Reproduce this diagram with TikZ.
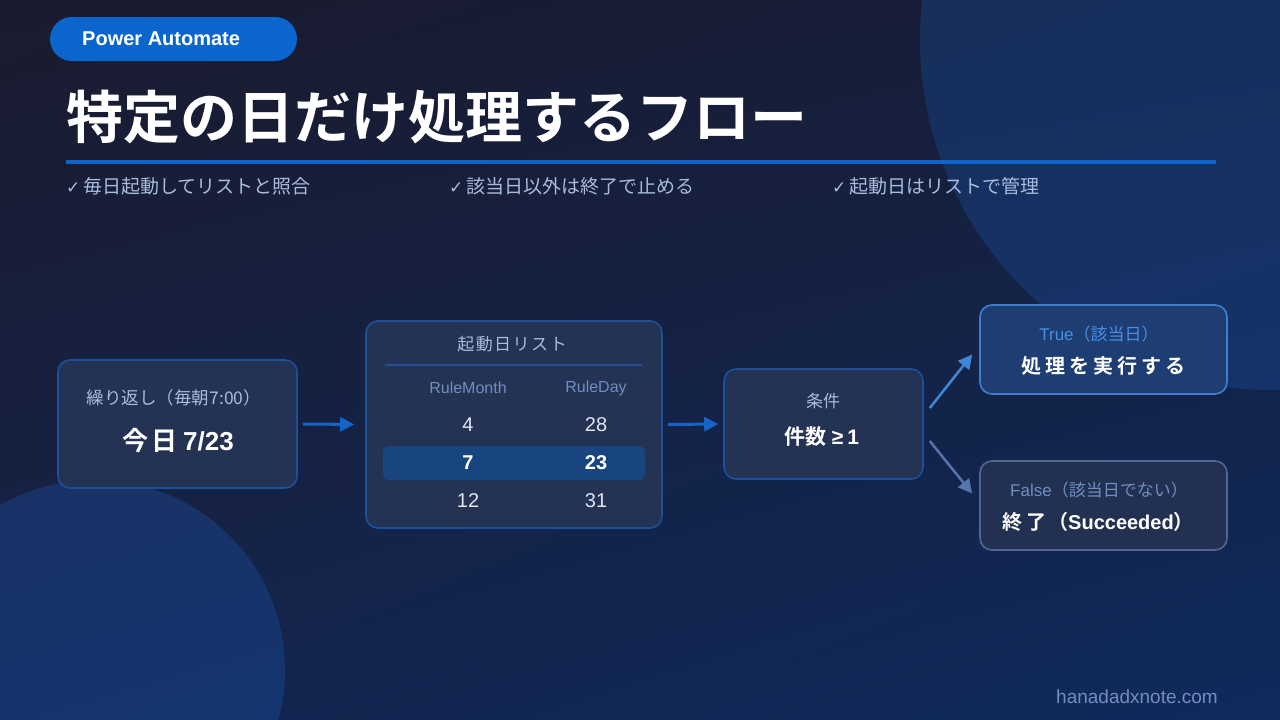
\documentclass[tikz,border=0pt]{standalone}
\usepackage{fontspec}
\setmainfont{Liberation Sans}
\newfontfamily\jp{Noto Sans CJK JP}[BoldFont={Noto Sans CJK JP Bold}]
\newfontfamily\symf{DejaVu Sans}
\usetikzlibrary{arrows.meta,calc,shadings}
\definecolor{bgUL}{RGB}{26,27,46}
\definecolor{bgUR}{RGB}{22,30,58}
\definecolor{bgLL}{RGB}{20,36,76}
\definecolor{bgLR}{RGB}{15,42,92}
\definecolor{accent}{RGB}{10,102,204}
\definecolor{circA}{RGB}{28,92,185}
\definecolor{boxfill}{RGB}{36,50,84}
\definecolor{boxline}{RGB}{28,80,152}
\definecolor{rowhl}{RGB}{24,68,128}
\definecolor{lbl}{RGB}{168,188,222}
\definecolor{hdr}{RGB}{112,142,192}
\definecolor{cell}{RGB}{222,228,242}
\definecolor{arr}{RGB}{22,100,200}
\definecolor{arrup}{RGB}{64,135,215}
\definecolor{arrdn}{RGB}{88,116,172}
\definecolor{truefill}{RGB}{30,62,115}
\definecolor{trueline}{RGB}{62,126,206}
\definecolor{truelbl}{RGB}{72,142,226}
\definecolor{falsefill}{RGB}{34,48,82}
\definecolor{falseline}{RGB}{82,102,142}
\tikzset{
  box/.style={draw=boxline, fill=boxfill, rounded corners=12pt, line width=1.6pt, inner sep=0pt},
  txt/.style={inner sep=0pt, anchor=center},
  flowarrow/.style={draw=arr, line width=3pt, -{Triangle[length=14pt,width=14pt]}},
}
\newcommand{\fs}[1]{\fontsize{#1}{#1}\selectfont}
\begin{document}
\begin{tikzpicture}[x=1pt,y=-1pt]
\useasboundingbox (0,0) rectangle (1280,720);
\shade[upper left=bgUL, upper right=bgUR, lower left=bgLL, lower right=bgLR] (0,0) rectangle (1280,720);
\begin{scope}
  \clip (0,0) rectangle (1280,720);
  \fill[circA, opacity=0.28] (1270,40) circle [radius=350pt];
  \fill[circA, opacity=0.30] (95,670) circle [radius=190pt];
\end{scope}

% header pill
\node[fill=accent, rounded corners=22pt, minimum width=247pt, minimum height=44pt, inner sep=0pt] (pill) at (173.5,39) {};
\node[txt, anchor=west, text=white, font=\rmfamily\bfseries\fs{20}] (pilltxt) at (82,39) {Power Automate};

% title
\node[txt, anchor=west, text=white, font=\jp\bfseries\fs{57}] (title) at (66,117) {特定の日だけ処理するフロー};
\draw[accent, line width=4pt] (66,162) -- (1216,162);

% bullets
\node[txt, anchor=west, text=lbl, font=\jp\fs{19}] (b1) at (66,186) {{\symf\fs{17}✓}\kern3pt 毎日起動してリストと照合};
\node[txt, anchor=west, text=lbl, font=\jp\fs{19}] (b2) at (449,186) {{\symf\fs{17}✓}\kern3pt 該当日以外は終了で止める};
\node[txt, anchor=west, text=lbl, font=\jp\fs{19}] (b3) at (832,186) {{\symf\fs{17}✓}\kern3pt 起動日はリストで管理};

% box 1 trigger
\node[box, minimum width=239pt, minimum height=128pt] (trig) at (177.5,424) {};
\node[txt, text=lbl, font=\jp\fs{17.5}] (trigl) at (174,398) {繰り返し（毎朝7:00）};
\node[txt, text=white, font=\jp\bfseries\fs{26}] (trigv) at (178,441) {今\kern3pt 日\ {\rmfamily 7/23}};

% box 2 list
\node[box, minimum width=296pt, minimum height=207pt] (list) at (514,424.5) {};
\node[txt, text=lbl, font=\jp\fs{17}] (listt) at (512,344) {起\kern1.5pt 動\kern1.5pt 日\kern1.5pt リ\kern1.5pt ス\kern1.5pt ト};
\draw[boxline, line width=2pt] (385,365) -- (642,365);
\node[txt, text=hdr, font=\rmfamily\fs{16}] (h1) at (468,388) {RuleMonth};
\node[txt, text=hdr, font=\rmfamily\fs{16}] (h2) at (596,388) {RuleDay};
\node[txt, text=cell, font=\rmfamily\fs{20}] (r11) at (468,425) {4};
\node[txt, text=cell, font=\rmfamily\fs{20}] (r12) at (596,425) {28};
\node[fill=rowhl, rounded corners=6pt, minimum width=262pt, minimum height=34pt, inner sep=0pt] (hl) at (514,463) {};
\node[txt, text=white, font=\rmfamily\bfseries\fs{20}] (r21) at (468,463) {7};
\node[txt, text=white, font=\rmfamily\bfseries\fs{20}] (r22) at (596,463) {23};
\node[txt, text=cell, font=\rmfamily\fs{20}] (r31) at (468,501) {12};
\node[txt, text=cell, font=\rmfamily\fs{20}] (r32) at (596,501) {31};

% box 3 condition
\node[box, minimum width=199pt, minimum height=110pt] (cond) at (823.5,424) {};
\node[txt, text=lbl, font=\jp\fs{17}] (condl) at (823,401) {条件};
\node[txt, text=white, font=\jp\bfseries\fs{21}] (condv) at (822,437) {件数\kern5pt{\rmfamily\bfseries ≥}\kern4pt{\rmfamily\bfseries 1}};

% true box
\node[box, draw=trueline, fill=truefill, minimum width=247pt, minimum height=89pt] (trueb) at (1103.5,349.5) {};
\node[txt, text=truelbl, font=\jp\fs{17}] (truel) at (1099,334) {{\rmfamily True}（該当日）};
\node[txt, text=white, font=\jp\bfseries\fs{20}] (truev) at (1103,366) {処\kern4pt 理\kern4pt を\kern4pt 実\kern4pt 行\kern4pt す\kern4pt る};

% false box
\node[box, draw=falseline, fill=falsefill, minimum width=247pt, minimum height=89pt] (falseb) at (1103.5,505.5) {};
\node[txt, text=hdr, font=\jp\fs{17}] (falsel) at (1099,490) {{\rmfamily False}（該当日でない）};
\node[txt, text=white, font=\jp\bfseries\fs{20}] (falsev) at (1098,522) {終\kern4pt 了\kern2pt（{\rmfamily\bfseries Succeeded}）};

% arrows
\draw[flowarrow, shorten <=5pt, shorten >=11pt] (trig.east) -- (list.west);
\draw[flowarrow, shorten <=5pt, shorten >=5pt] (list.east) -- (cond.west);
\draw[flowarrow, draw=arrup, line width=2.5pt] ($(cond.east)+(6,-16)$) -- ($(trueb.west)+(-7,5)$);
\draw[flowarrow, draw=arrdn, line width=2.5pt] ($(cond.east)+(6,17)$) -- ($(falseb.west)+(-7,-12)$);

% footer
\node[txt, text=hdr, font=\rmfamily\fs{19}] (footer) at (1137,697) {hanadadxnote.com};
\end{tikzpicture}
\end{document}
